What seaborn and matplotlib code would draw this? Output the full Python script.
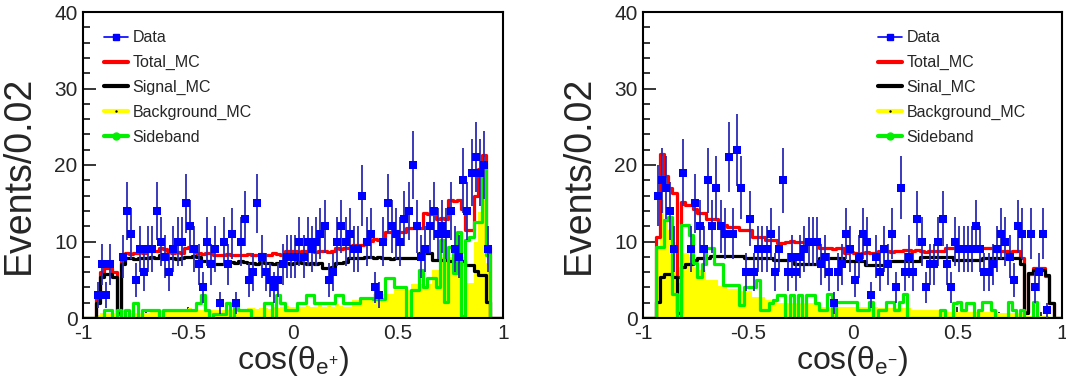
import numpy as np
import matplotlib
matplotlib.use('Agg')
from matplotlib import pyplot as plt
from matplotlib.ticker import MultipleLocator
from matplotlib.lines import Line2D
import seaborn as sns

# 100 bins of width 0.02 on [-1, 1]
edges = np.linspace(-1, 1, 101)
centers = 0.5 * (edges[:-1] + edges[1:])
bin_list = edges.tolist()   # seaborn chokes on an ndarray of bins together with weights

# ---- left panel: cos(theta_e+) ----
left_data = [0, 0, 0, 3, 7, 3, 7, 0, 0, 8,
             14, 11, 5, 9, 6, 9, 9, 14, 10, 8,
             6, 9, 10, 10, 15, 12, 9, 7, 4, 10,
             7, 9, 2, 10, 7, 11, 2, 10, 13, 5,
             6, 15, 8, 6, 5, 4, 5, 7, 8, 8,
             8, 10, 8, 10, 9, 10, 11, 12, 5, 6,
             10, 12, 10, 11, 9, 9, 16, 10, 11, 4,
             3, 10, 15, 12, 11, 10, 13, 14, 20, 12,
             8, 9, 12, 14, 11, 12, 11, 14, 9, 8,
             18, 14, 19, 21, 19, 20, 9, 0, 0, 0]
left_total = [0, 0, 0, 2.5, 6, 6.5, 6.5, 6, 0.5, 8,
              8.5, 8.4, 8.5, 8.6, 8.5, 8.7, 8.8, 8.7, 9.1, 9.0,
              8.7, 8.5, 8.6, 8.5, 9.2, 9.3, 9.1, 8.5, 8.4, 8.5,
              8.5, 8.3, 8.2, 8.3, 8.4, 8.3, 8.2, 8.3, 8.3, 8.4,
              8.3, 8.2, 8.4, 8.3, 8.3, 8.5, 8.4, 8.3, 8.7, 8.8,
              8.7, 8.6, 8.7, 8.8, 8.7, 8.6, 8.8, 8.7, 8.6, 8.7,
              9.1, 9.0, 9.1, 9.2, 9.5, 9.6, 9.5, 10.2, 10.1, 10.3,
              10.2, 10.2, 11.3, 11.2, 11.4, 11.3, 11.3, 11.7, 11.8, 11.7,
              11.7, 13.7, 13.6, 13.8, 13.0, 13.1, 13.0, 15.4, 15.3, 15.4,
              14.3, 11.5, 11.5, 16.0, 19.5, 21.3, 9.3, 0, 0, 0]
left_signal = [0, 0, 0, 2, 5.4, 5.8, 5.8, 5.3, 0.8, 7.1,
               7.8, 7.8, 7.7, 7.8, 7.9, 7.8, 8.0, 7.9, 8.3, 8.3,
               7.8, 7.8, 7.7, 7.8, 8.0, 8.0, 8.1, 8.0, 7.4, 7.4,
               7.4, 7.0, 7.0, 7.1, 7.3, 7.3, 7.2, 7.4, 7.3, 7.2,
               7.2, 7.1, 7.3, 7.2, 7.2, 7.1, 7.2, 7.3, 7.2, 7.1,
               7.2, 7.3, 7.2, 7.1, 7.2, 7.0, 7.2, 6.6, 6.6, 6.7,
               7.2, 7.2, 7.3, 7.8, 7.8, 7.8, 7.8, 8.0, 8.0, 7.9,
               8.0, 7.8, 7.8, 7.7, 7.8, 7.9, 7.8, 7.8, 7.9, 7.8,
               8.5, 8.5, 8.5, 7.6, 7.6, 7.6, 7.6, 7.4, 7.4, 7.4,
               7.4, 6.9, 6.9, 6.1, 5.6, 5.6, 2.1, 0, 0, 0]
left_bkg = [0, 0, 0, 0.4, 0.6, 0.6, 0.6, 0.6, 0.2, 0.6,
            0.6, 0.6, 0.7, 0.6, 0.6, 0.6, 0.9, 0.9, 1.0, 0.9,
            0.9, 1.2, 1.2, 1.1, 1.2, 1.3, 1.0, 1.0, 1.1, 1.0,
            1.0, 1.0, 1.0, 1.1, 1.0, 1.0, 1.0, 1.1, 1.0, 1.3,
            1.3, 1.2, 1.3, 1.3, 1.2, 1.5, 1.3, 1.5, 1.6, 1.5,
            1.5, 1.4, 1.5, 1.6, 1.5, 1.5, 2.0, 1.5, 1.6, 1.5,
            1.8, 1.6, 1.5, 1.5, 2.4, 2.4, 2.4, 2.4, 2.4, 3.2,
            3.2, 3.2, 3.2, 3.2, 3.7, 3.7, 3.7, 3.7, 4.5, 4.5,
            4.5, 4.5, 4.5, 6.3, 6.3, 8.0, 8.0, 8.0, 8.0, 8.0,
            8.0, 4.6, 4.6, 10.0, 13.9, 15.7, 7.2, 0, 0, 0]
left_side = [0, 0, 0, 0, 0, 1, 1, 0, 1, 0,
             1, 0, 2, 0, 1, 1, 1, 1, 0, 1,
             1, 1, 1, 1, 1, 1, 1, 2, 3, 1,
             0, 0.5, 0.5, 0.5, 2, 0, 2, 1, 1, 1,
             0, 0, 0, 2, 2, 0, 3, 2, 1, 1,
             1, 2, 2, 3, 3, 2, 2, 2, 2, 2,
             3, 3, 2, 2, 1.9, 1.9, 2.6, 2.6, 2.6, 2.5,
             2.5, 2.5, 5.2, 5.2, 4.1, 4.1, 4.1, 0, 3.7, 3.7,
             6.3, 4.1, 5.2, 5.2, 4.1, 10.2, 2.1, 9.3, 5.9, 11.3,
             0.2, 10.2, 10.6, 12.6, 12.6, 20.2, 8.2, 0, 0, 0]

# ---- right panel: cos(theta_e-) ----
right_data = [0, 0, 0, 16, 18, 17, 14, 9, 0, 19,
              0, 9, 15, 12, 9, 18, 12, 17, 12, 11,
              21, 11, 22, 17, 6, 13, 6, 9, 9, 9,
              11, 6, 9, 18, 6, 8, 6, 8, 9, 10,
              10, 10, 7, 8, 6, 2, 6, 7, 11, 9,
              5, 8, 11, 10, 3, 8, 6, 9, 7, 11,
              4, 17, 6, 8, 6, 13, 10, 4, 7, 7,
              10, 13, 7, 4, 10, 9, 9, 9, 9, 12,
              9, 6, 6, 7, 9, 11, 10, 8, 5, 12,
              11, 0, 11, 4, 6, 11, 1, 0, 0, 0]
right_total = [0, 0, 0, 10.6, 21.5, 18.5, 17.0, 16.3, 5.4, 15.2,
               14.8, 14.8, 14.3, 13.7, 13.7, 13.0, 13.0, 13.0, 12.2, 12.2,
               11.9, 11.9, 11.9, 11.5, 11.5, 11.5, 10.6, 10.6, 10.6, 10.2,
               10.2, 10.2, 9.8, 9.8, 10.0, 10.1, 10.0, 9.9, 10.0, 10.1,
               10.0, 10.0, 9.1, 9.2, 9.1, 9.0, 9.1, 9.1, 8.5, 8.6,
               8.5, 8.4, 8.5, 8.6, 8.5, 8.5, 8.7, 8.8, 8.7, 8.6,
               8.7, 8.8, 8.9, 8.9, 8.8, 8.9, 8.7, 8.6, 8.7, 8.8,
               8.7, 8.7, 9.1, 9.2, 9.1, 9.0, 9.1, 9.2, 9.1, 9.0,
               9.1, 9.2, 9.1, 9.1, 8.7, 8.8, 8.7, 8.6, 8.7, 8.7,
               7.8, 0.8, 5.8, 6.5, 6.5, 6.5, 5.5, 2.0, 0, 0]
right_signal = [0, 0, 0, 2.1, 5.4, 5.8, 5.8, 5.4, 0.6, 6.7,
                7.1, 7.1, 7.6, 7.8, 7.8, 7.8, 8.1, 8.1, 8.1, 8.1,
                8.1, 8.1, 8.1, 8.1, 7.8, 7.8, 7.8, 7.8, 7.8, 7.8,
                7.8, 7.6, 7.6, 7.6, 7.6, 7.6, 7.1, 7.1, 7.1, 7.1,
                7.1, 7.1, 7.8, 7.8, 7.8, 7.8, 7.8, 7.8, 7.4, 7.4,
                7.4, 7.4, 7.4, 6.9, 6.9, 6.9, 6.9, 6.9, 7.4, 7.4,
                7.4, 7.4, 7.4, 7.4, 7.4, 7.4, 8.0, 8.0, 8.0, 8.0,
                8.0, 8.0, 8.0, 8.0, 7.6, 7.6, 7.6, 7.6, 7.6, 7.6,
                7.6, 7.8, 7.8, 7.8, 7.8, 7.8, 7.8, 7.8, 7.8, 7.8,
                7.1, 0.6, 5.9, 6.3, 6.3, 6.3, 5.6, 1.9, 0, 0]
right_bkg = [0, 0, 0, 9.3, 15.4, 13.0, 11.5, 10, 4.6, 8.5,
             8.5, 8.0, 6.7, 6.3, 6.3, 5, 5, 5, 4.2, 4.2,
             3.8, 3.8, 3.8, 3.5, 3.5, 3.5, 2.8, 2.8, 2.8, 2.4,
             2.4, 2.4, 2, 2, 1.9, 1.9, 1.9, 1.9, 1.9, 1.9,
             1.9, 1.9, 1.5, 1.5, 1.5, 1.5, 1.5, 1.5, 1.5, 1.5,
             1.5, 1.5, 1.5, 1.5, 1.5, 1.5, 1.3, 1.3, 1.3, 1.3,
             1.3, 1.3, 1.3, 1.3, 1.0, 1.0, 1.0, 1.0, 1.0, 1.0,
             1.0, 0.8, 0.8, 0.8, 0.8, 0.8, 0.8, 0.8, 0.8, 0.8,
             0.8, 0.8, 0.8, 0.8, 0.6, 0.6, 0.6, 0.6, 0.6, 0.6,
             0.6, 0.2, 0.3, 0.3, 0.3, 0.3, 0.3, 0, 0, 0]
right_side = [0, 0, 0, 9.3, 9.3, 12.8, 13.2, 3.2, 0, 12.2,
              12.2, 10.8, 7.2, 5.4, 7.1, 9.1, 9.1, 7.1, 7.1, 4.3,
              4.3, 4.3, 4.3, 1.7, 4.1, 4.1, 4.1, 5, 1, 1,
              1.9, 2.4, 3, 3, 0, 3, 0, 3, 0, 3,
              3, 1.9, 1, 1, 3.1, 0, 2.1, 2.1, 2.1, 2.1,
              2.1, 1, 1, 1, 2.1, 0, 1, 1, 2.1, 2.1,
              1, 2.1, 3.1, 0, 0, 0, 0, 0, 0, 0,
              0, 1, 0, 0, 1.9, 2.1, 1, 1.9, 1.9, 0,
              1, 2.1, 2.1, 1, 0, 0, 0, 2.1, 1, 0,
              1, 0, 0, 2.1, 0, 0, 0, 0, 0, 0]

left_labels = ['Data', 'Total_MC', 'Signal_MC', 'Background_MC', 'Sideband']
right_labels = ['Data', 'Total_MC', 'Sinal_MC', 'Background_MC', 'Sideband']

sns.set_style('white')
plt.rcParams['font.family'] = ['Liberation Sans', 'DejaVu Sans']
plt.rcParams['axes.unicode_minus'] = False
plt.rcParams['mathtext.default'] = 'regular'

BLUE, EBLUE, RED, YEL, GRN = '#0000ff', '#2b2bb5', '#ff0000', '#ffff00', '#00f000'


def draw_panel(ax, data, total, signal, bkg, side, labels, xlabel, leg_x):
    sns.histplot(x=centers, weights=bkg, bins=bin_list, element='step', fill=True,
                 color=YEL, alpha=1, linewidth=0, ax=ax)
    sns.histplot(x=centers, weights=total, bins=bin_list, element='step', fill=False,
                 color=RED, linewidth=2.3, ax=ax)
    sns.histplot(x=centers, weights=signal, bins=bin_list, element='step', fill=False,
                 color='black', linewidth=2.3, ax=ax)
    sns.histplot(x=centers, weights=side, bins=bin_list, element='step', fill=False,
                 color=GRN, linewidth=2.3, ax=ax)
    d = np.array(data, dtype=float)
    m = d > 0
    ax.errorbar(centers[m], d[m], yerr=np.sqrt(d[m]), fmt='none', ecolor=EBLUE,
                elinewidth=1.3, capsize=0, zorder=5)
    sns.scatterplot(x=centers[m], y=d[m], marker='s', color=BLUE, s=30,
                    edgecolor=BLUE, linewidth=0, zorder=6, ax=ax)

    ax.set_xlim(-1, 1)
    ax.set_ylim(0, 40)
    ax.xaxis.set_major_locator(MultipleLocator(0.5))
    ax.xaxis.set_minor_locator(MultipleLocator(0.1))
    ax.yaxis.set_major_locator(MultipleLocator(10))
    ax.yaxis.set_minor_locator(MultipleLocator(2))
    ax.xaxis.set_major_formatter(lambda v, p: '%g' % v)
    ax.tick_params(which='both', direction='in', bottom=True, left=True,
                   top=False, right=False, width=1.1, labelsize=15,
                   color='black')
    ax.tick_params(axis='y', which='major', length=9, pad=4)
    ax.tick_params(axis='y', which='minor', length=5)
    ax.tick_params(axis='x', which='major', length=8, pad=4)
    ax.tick_params(axis='x', which='minor', length=4)
    for s in ax.spines.values():
        s.set_linewidth(1.5)
        s.set_color('black')

    ax.set_ylabel('Events/0.02', fontsize=27)
    ax.yaxis.set_label_coords(-0.11, 0.467)
    ax.set_xlabel(xlabel, fontsize=23)
    ax.xaxis.set_label_coords(0.5, -0.085)

    handles = [
        Line2D([], [], color=BLUE, lw=1.2, marker='s', ms=5),
        Line2D([], [], color=RED, lw=3),
        Line2D([], [], color='black', lw=3),
        Line2D([], [], color=YEL, lw=3, marker='.', ms=1.5, mfc='k', mec='k'),
        Line2D([], [], color=GRN, lw=3, marker='o', ms=5),
    ]
    ax.legend(handles, labels, loc='upper left', bbox_to_anchor=(leg_x, 0.94),
              frameon=False, fontsize=11.5, handlelength=1.5, handletextpad=0.28,
              labelspacing=0.61, borderpad=0, borderaxespad=0)


fig = plt.figure(figsize=(10.66, 3.88), dpi=100)
axL = fig.add_axes([83 / 1066, 70 / 388, 420 / 1066, 306 / 388])
axR = fig.add_axes([643 / 1066, 70 / 388, 419 / 1066, 306 / 388])

draw_panel(axL, left_data, left_total, left_signal, left_bkg, left_side,
           left_labels, r'cos($\theta_{e^{+}}$)', 0.05)
draw_panel(axR, right_data, right_total, right_signal, right_bkg, right_side,
           right_labels, r'cos($\theta_{e^{-}}$)', 0.561)

fig.savefig('out.png', dpi=100)
